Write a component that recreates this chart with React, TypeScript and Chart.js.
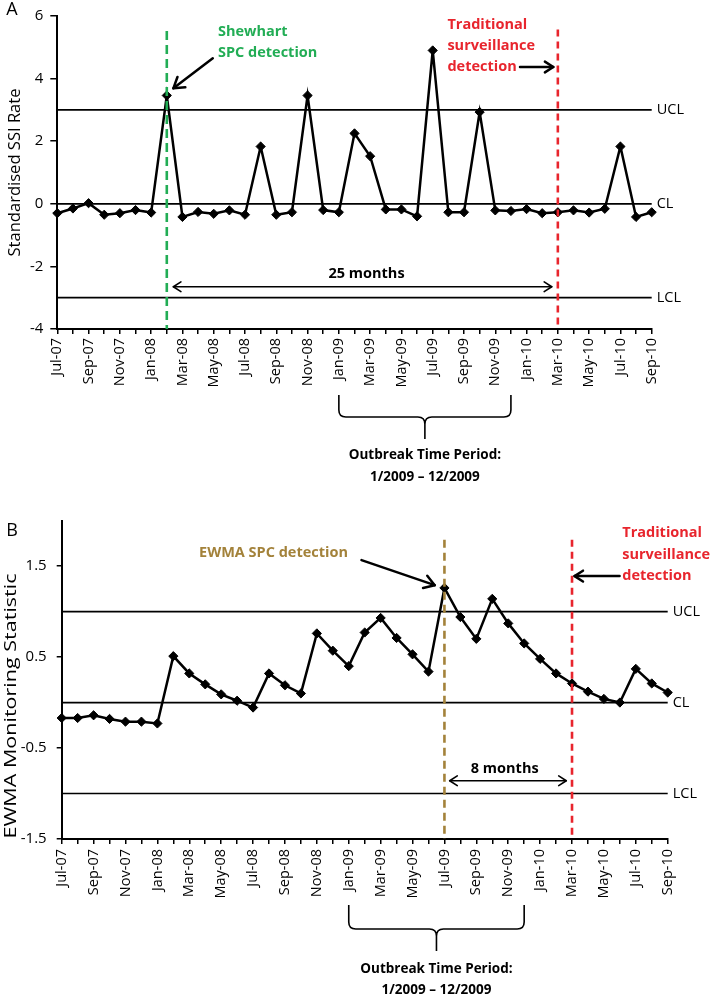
import React, { useEffect, useRef } from 'react';
import { Chart, registerables } from 'chart.js';

Chart.register(...registerables);

// ---------- data ----------
const months = [
  'Jul-07', 'Aug-07', 'Sep-07', 'Oct-07', 'Nov-07', 'Dec-07',
  'Jan-08', 'Feb-08', 'Mar-08', 'Apr-08', 'May-08', 'Jun-08', 'Jul-08', 'Aug-08', 'Sep-08', 'Oct-08', 'Nov-08', 'Dec-08',
  'Jan-09', 'Feb-09', 'Mar-09', 'Apr-09', 'May-09', 'Jun-09', 'Jul-09', 'Aug-09', 'Sep-09', 'Oct-09', 'Nov-09', 'Dec-09',
  'Jan-10', 'Feb-10', 'Mar-10', 'Apr-10', 'May-10', 'Jun-10', 'Jul-10', 'Aug-10', 'Sep-10',
];

const standardisedSSI = [
  -0.30, -0.15, 0.02, -0.35, -0.30, -0.20, -0.28, 3.46, -0.42, -0.26,
  -0.32, -0.21, -0.35, 1.83, -0.35, -0.27, 3.46, -0.20, -0.27, 2.25,
  1.52, -0.18, -0.18, -0.40, 4.90, -0.27, -0.27, 2.93, -0.21, -0.23,
  -0.17, -0.30, -0.27, -0.21, -0.28, -0.16, 1.83, -0.42, -0.27,
];

const ewmaStatistic = [
  -0.17, -0.17, -0.14, -0.18, -0.21, -0.21, -0.23, 0.51, 0.32, 0.20,
  0.09, 0.02, -0.055, 0.32, 0.19, 0.10, 0.76, 0.57, 0.40, 0.77,
  0.93, 0.71, 0.53, 0.34, 1.26, 0.94, 0.70, 1.14, 0.87, 0.65,
  0.48, 0.32, 0.21, 0.12, 0.04, 0.00, 0.37, 0.21, 0.11,
];

const yTicksA = [-4, -2, 0, 2, 4, 6];
const yTicksB = [-1.5, -0.5, 0.5, 1.5];
const controlLabels = ['UCL', 'CL', 'LCL'];
const controlLimitsA = [3, 0, -3];
const controlLimitsB = [1, 0, -1];

const shewhartDetectIdx = 7; // Feb-08
const ewmaDetectIdx = 24; // Jul-09
const traditionalDetectIdx = 32; // Mar-10
const outbreakStartIdx = 18; // Jan-09
const outbreakEndIdx = 29; // Dec-09

// ---------- styles ----------
const FONT = '"Open Sans", sans-serif';
const GREEN = '#22ad55';
const RED = '#e8252d';
const GOLD = '#a3823a';
const BLACK = '#000';

function vdash(ctx: any, x: number, y1: number, y2: number, color: string, dash: number[]) {
  ctx.save();
  ctx.strokeStyle = color;
  ctx.lineWidth = 2.6;
  ctx.setLineDash(dash);
  ctx.beginPath();
  ctx.moveTo(x, y1);
  ctx.lineTo(x, y2);
  ctx.stroke();
  ctx.restore();
}

function head(ctx: any, x1: number, y1: number, x2: number, y2: number, len: number) {
  const a = Math.atan2(y2 - y1, x2 - x1);
  const s = Math.PI / 5.5;
  ctx.beginPath();
  ctx.moveTo(x2 - len * Math.cos(a - s), y2 - len * Math.sin(a - s));
  ctx.lineTo(x2, y2);
  ctx.lineTo(x2 - len * Math.cos(a + s), y2 - len * Math.sin(a + s));
  ctx.stroke();
}

function arrow(ctx: any, x1: number, y1: number, x2: number, y2: number, lw: number, len: number, both = false) {
  ctx.save();
  ctx.strokeStyle = BLACK;
  ctx.lineWidth = lw;
  ctx.lineCap = 'round';
  ctx.lineJoin = 'round';
  ctx.beginPath();
  ctx.moveTo(x1, y1);
  ctx.lineTo(x2, y2);
  ctx.stroke();
  head(ctx, x1, y1, x2, y2, len);
  if (both) head(ctx, x2, y2, x1, y1, len);
  ctx.restore();
}

function text(ctx: any, s: string, x: number, y: number, color: string, align: string, font: string) {
  ctx.save();
  ctx.fillStyle = color;
  ctx.font = font;
  ctx.textAlign = align;
  ctx.textBaseline = 'middle';
  ctx.fillText(s, x, y);
  ctx.restore();
}

function vTitle(ctx: any, s: string, cx: number, cy: number, len: number) {
  ctx.save();
  ctx.font = `16px ${FONT}`;
  const w = ctx.measureText(s).width;
  ctx.translate(cx, cy);
  ctx.rotate(-Math.PI / 2);
  ctx.scale(len / w, 1);
  ctx.fillStyle = BLACK;
  ctx.textAlign = 'center';
  ctx.textBaseline = 'middle';
  ctx.fillText(s, 0, 0);
  ctx.restore();
}

function brace(ctx: any, xl: number, xr: number, yTop: number, yMid: number, yTip: number) {
  const xc = (xl + xr) / 2;
  const r = 7;
  ctx.save();
  ctx.strokeStyle = BLACK;
  ctx.lineWidth = 1.6;
  ctx.beginPath();
  ctx.moveTo(xl, yTop);
  ctx.lineTo(xl, yMid - r);
  ctx.quadraticCurveTo(xl, yMid, xl + r, yMid);
  ctx.lineTo(xc - r, yMid);
  ctx.quadraticCurveTo(xc, yMid, xc, yMid + r);
  ctx.lineTo(xc, yTip);
  ctx.moveTo(xr, yTop);
  ctx.lineTo(xr, yMid - r);
  ctx.quadraticCurveTo(xr, yMid, xr - r, yMid);
  ctx.lineTo(xc + r, yMid);
  ctx.quadraticCurveTo(xc, yMid, xc, yMid + r);
  ctx.stroke();
  ctx.restore();
}

function controlLines(chart: any, limits: number[]) {
  const { ctx, scales: { x, y } } = chart;
  const x0 = x.getPixelForValue(0);
  const x1 = x.getPixelForValue(months.length - 1);
  ctx.save();
  ctx.strokeStyle = BLACK;
  ctx.lineWidth = 1.7;
  limits.forEach((v, i) => {
    const py = y.getPixelForValue(v);
    ctx.beginPath();
    ctx.moveTo(x0, py);
    ctx.lineTo(x1, py);
    ctx.stroke();
    text(ctx, controlLabels[i], x1 + 5, py, BLACK, 'left', `14.5px ${FONT}`);
  });
  ctx.restore();
}

const BOLD = `bold 14.5px ${FONT}`;
const BOLD_SMALL = `bold 13.5px ${FONT}`;

const annoA = {
  id: 'annoA',
  beforeDatasetsDraw(chart: any) {
    controlLines(chart, controlLimitsA);
  },
  afterDatasetsDraw(chart: any) {
    const { ctx, chartArea, scales: { x, y } } = chart;
    const X = (i: number) => x.getPixelForValue(i);
    const Y = (v: number) => y.getPixelForValue(v);
    vdash(ctx, X(shewhartDetectIdx), Y(5.52), chartArea.bottom, GREEN, [9, 5]);
    vdash(ctx, X(traditionalDetectIdx), Y(5.57), chartArea.bottom, RED, [7, 5]);
    text(ctx, 'Shewhart', X(10.27), Y(5.5), GREEN, 'left', BOLD);
    text(ctx, 'SPC detection', X(10.27), Y(4.81), GREEN, 'left', BOLD);
    arrow(ctx, X(9.94), Y(4.65), X(7.42), Y(3.69), 2.5, 12);
    text(ctx, 'Traditional', X(24.94), Y(5.73), RED, 'left', BOLD);
    text(ctx, 'surveillance', X(24.94), Y(5.04), RED, 'left', BOLD);
    text(ctx, 'detection', X(24.94), Y(4.38), RED, 'left', BOLD);
    arrow(ctx, X(29.58), Y(4.37), X(31.71), Y(4.37), 2.5, 10);
    text(ctx, '25 months', X(19.77), Y(-2.25), BLACK, 'center', BOLD);
    arrow(ctx, X(7.42), Y(-2.65), X(31.61), Y(-2.65), 1.6, 9, true);
    const b = chartArea.bottom;
    brace(ctx, X(outbreakStartIdx), X(outbreakEndIdx), b + 66, b + 88, b + 110);
    const xc = (X(outbreakStartIdx) + X(outbreakEndIdx)) / 2;
    text(ctx, 'Outbreak Time Period:', xc, b + 126, BLACK, 'center', BOLD_SMALL);
    text(ctx, '1/2009 \u2013 12/2009', xc, b + 148, BLACK, 'center', BOLD_SMALL);
  },
  afterDraw(chart: any) {
    const { ctx, chartArea } = chart;
    text(ctx, 'A', 12, 10, BLACK, 'center', `18px ${FONT}`);
    vTitle(ctx, 'Standardised SSI Rate', 15, (chartArea.top + chartArea.bottom) / 2, 168);
  },
};

const annoB = {
  id: 'annoB',
  beforeDatasetsDraw(chart: any) {
    controlLines(chart, controlLimitsB);
  },
  afterDatasetsDraw(chart: any) {
    const { ctx, chartArea, scales: { x, y } } = chart;
    const X = (i: number) => x.getPixelForValue(i);
    const Y = (v: number) => y.getPixelForValue(v);
    vdash(ctx, X(ewmaDetectIdx), Y(1.79), chartArea.bottom, GOLD, [8, 5]);
    vdash(ctx, X(traditionalDetectIdx), Y(1.79), chartArea.bottom, RED, [7, 5]);
    text(ctx, 'EWMA SPC detection', X(8.61), Y(1.64), GOLD, 'left', BOLD);
    arrow(ctx, X(18.8), Y(1.566), X(23.39), Y(1.29), 2.5, 12);
    text(ctx, 'Traditional', X(35.15), Y(1.86), RED, 'left', BOLD);
    text(ctx, 'surveillance', X(35.15), Y(1.62), RED, 'left', BOLD);
    text(ctx, 'detection', X(35.15), Y(1.39), RED, 'left', BOLD);
    arrow(ctx, X(34.98), Y(1.39), X(32.16), Y(1.39), 2.5, 10);
    text(ctx, '8 months', X(27.78), Y(-0.73), BLACK, 'center', BOLD);
    arrow(ctx, X(24.33), Y(-0.86), X(31.64), Y(-0.86), 1.6, 9, true);
    const b = chartArea.bottom;
    brace(ctx, X(outbreakStartIdx), X(outbreakEndIdx), b + 66, b + 90, b + 112);
    const xc = (X(outbreakStartIdx) + X(outbreakEndIdx)) / 2;
    text(ctx, 'Outbreak Time Period:', xc, b + 130, BLACK, 'center', BOLD_SMALL);
    text(ctx, '1/2009 \u2013 12/2009', xc, b + 151, BLACK, 'center', BOLD_SMALL);
  },
  afterDraw(chart: any) {
    const { ctx } = chart;
    text(ctx, 'B', 12, 36, BLACK, 'center', `18px ${FONT}`);
    vTitle(ctx, 'EWMA Monitoring Statistic', 11, 211, 265);
  },
};

function makeConfig(values: number[], yMin: number, yMax: number, yTicks: number[], opts: any, plugin: any): any {
  return {
    type: 'line',
    data: {
      labels: months,
      datasets: [
        {
          data: values,
          borderColor: BLACK,
          backgroundColor: BLACK,
          borderWidth: 2.5,
          pointStyle: 'rectRot',
          pointRadius: 4.6,
          pointBorderWidth: 1,
          pointBackgroundColor: BLACK,
          pointBorderColor: BLACK,
          tension: 0,
          clip: false,
        },
      ],
    },
    options: {
      responsive: false,
      animation: false,
      devicePixelRatio: 1,
      layout: { padding: opts.padding },
      plugins: { legend: { display: false }, tooltip: { enabled: false } },
      scales: {
        x: {
          type: 'category',
          offset: false,
          grid: { display: true, drawOnChartArea: false, drawTicks: true, tickLength: 5, color: BLACK, lineWidth: 1.5 },
          border: { display: true, color: BLACK, width: 2 },
          ticks: {
            autoSkip: false,
            maxRotation: 90,
            minRotation: 90,
            padding: opts.xPad,
            color: BLACK,
            font: { family: FONT, size: 14.5 },
            callback: (_v: any, i: number) => (i % 2 === 0 ? months[i] : ''),
          },
          afterFit: (s: any) => { s.height = opts.xHeight; },
        },
        y: {
          min: yMin,
          max: yMax,
          grid: { display: true, drawOnChartArea: false, drawTicks: true, tickLength: opts.yTick, color: BLACK, lineWidth: 1.5 },
          border: { display: true, color: BLACK, width: 2 },
          ticks: { padding: opts.yPad, color: BLACK, font: { family: FONT, size: 15 } },
          afterBuildTicks: (s: any) => { s.ticks = yTicks.map((v) => ({ value: v })); },
          afterFit: (s: any) => { s.width = opts.yWidth; },
        },
      },
    },
    plugins: [plugin],
  };
}

export default function App() {
  const refA = useRef<HTMLCanvasElement>(null);
  const refB = useRef<HTMLCanvasElement>(null);

  useEffect(() => {
    Chart.defaults.font.family = FONT;
    Chart.defaults.color = BLACK;
    const a = new Chart(refA.current as any, makeConfig(standardisedSSI, -4, 6, yTicksA, {
      padding: { left: 0, top: 15, right: 58.3, bottom: 66 },
      xHeight: 100, xPad: 4, yTick: 7, yPad: 7, yWidth: 57.3,
    }, annoA));
    const b = new Chart(refB.current as any, makeConfig(ewmaStatistic, -1.5, 2, yTicksB, {
      padding: { left: 0, top: 25.6, right: 42.3, bottom: 60 },
      xHeight: 100, xPad: 5, yTick: 5, yPad: 10, yWidth: 61.7,
    }, annoB));
    return () => { a.destroy(); b.destroy(); };
  }, []);

  return (
    <div style={{ position: 'absolute', left: 0, top: 0, width: 710, height: 999, background: '#fff' }}>
      <canvas ref={refA} width={710} height={495} style={{ position: 'absolute', left: 0, top: 0 }} />
      <canvas ref={refB} width={710} height={504} style={{ position: 'absolute', left: 0, top: 495 }} />
    </div>
  );
}
